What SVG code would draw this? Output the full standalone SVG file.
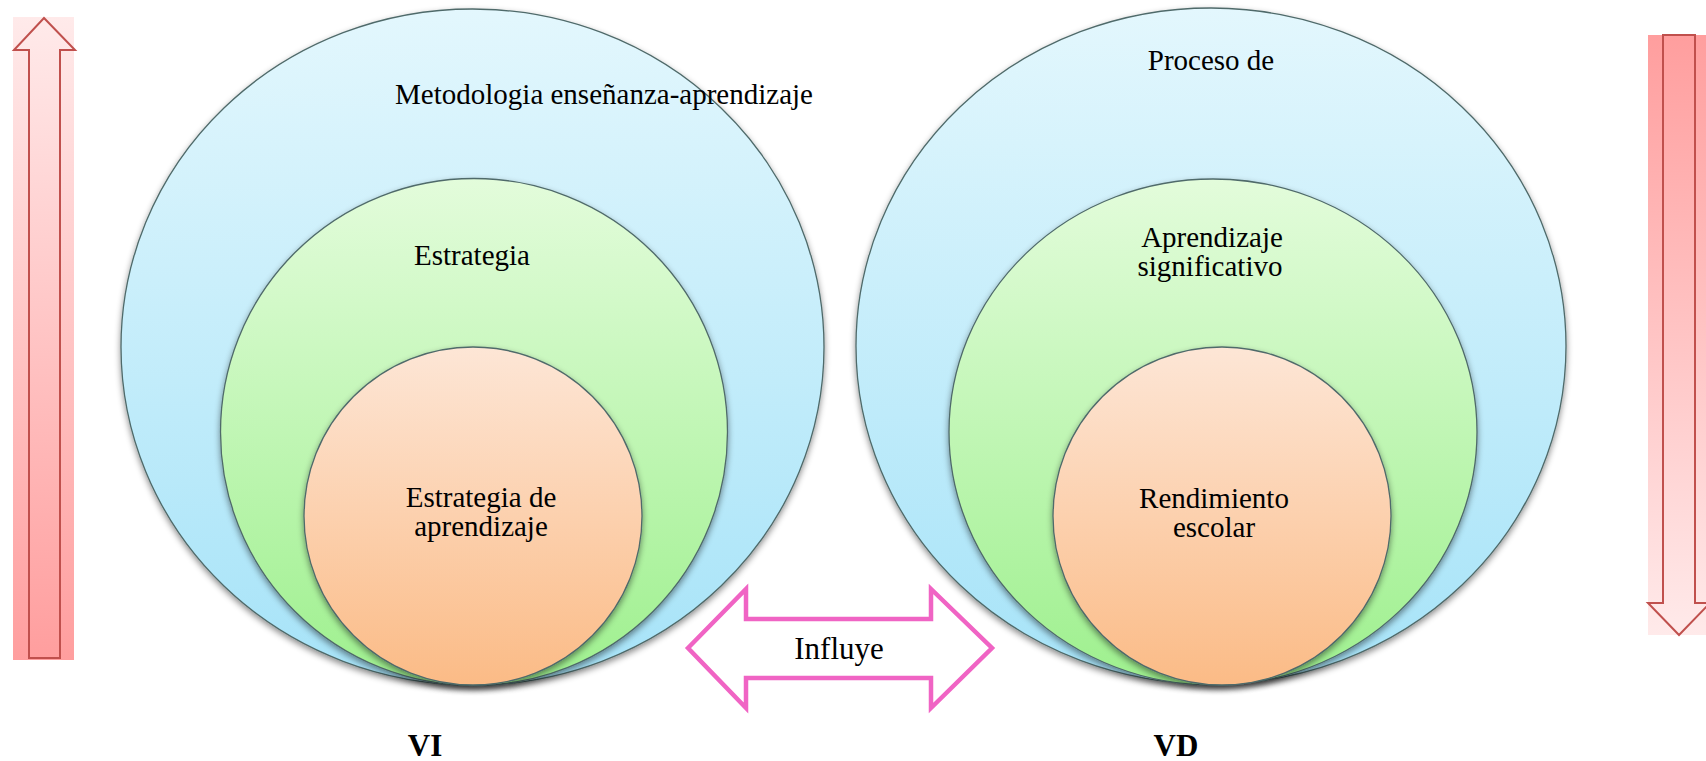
<svg xmlns="http://www.w3.org/2000/svg" width="1706" height="761" viewBox="0 0 1706 761">
<defs>
<linearGradient id="gBlue" x1="0" y1="0" x2="0" y2="1"><stop offset="0" stop-color="#e3f7fd"/><stop offset="1" stop-color="#a6e3f8"/></linearGradient>
<linearGradient id="gGreen" x1="0" y1="0" x2="0" y2="1"><stop offset="0" stop-color="#e3fcdb"/><stop offset="1" stop-color="#9ef08e"/></linearGradient>
<linearGradient id="gOrange" x1="0" y1="0" x2="0" y2="1"><stop offset="0" stop-color="#fde6d6"/><stop offset="1" stop-color="#fbbb86"/></linearGradient>
<linearGradient id="gUp" x1="0" y1="0" x2="0" y2="1"><stop offset="0" stop-color="#ffeaea"/><stop offset="1" stop-color="#ff9e9e"/></linearGradient>
<linearGradient id="gDown" x1="0" y1="0" x2="0" y2="1"><stop offset="0" stop-color="#ff9e9e"/><stop offset="1" stop-color="#ffeaea"/></linearGradient>
<filter id="sh" x="-10%" y="-10%" width="120%" height="125%"><feGaussianBlur in="SourceAlpha" stdDeviation="3"/><feOffset dy="3" result="b"/><feFlood flood-color="#000" flood-opacity="0.45"/><feComposite in2="b" operator="in"/><feMerge><feMergeNode/><feMergeNode in="SourceGraphic"/></feMerge></filter>
</defs>
<style>
.c{stroke:#4f6a6a;stroke-width:1.3;filter:url(#sh)}
.t{font-family:"Liberation Serif","Times New Roman",serif;font-size:29px;fill:#000;text-anchor:middle}
.b{font-family:"Liberation Serif","Times New Roman",serif;font-size:31px;font-weight:bold;fill:#000;text-anchor:middle}
.ar{stroke:#c0504d;stroke-width:2;fill:url(#gUp)}
</style>
<rect width="1706" height="761" fill="#fff"/>
<g id="vi-arrow">
<rect x="13" y="17" width="61" height="643" fill="url(#gUp)"/>
<path class="ar" d="M44 18 L75 50 L60 50 L60 658 L29 658 L29 50 L14 50 Z"/>
</g>
<g id="vd-arrow">
<rect x="1648" y="35" width="62" height="600" fill="url(#gDown)"/>
<path class="ar" style="fill:url(#gDown)" d="M1663 35 L1695 35 L1695 603 L1710 603 L1679 635 L1648 603 L1663 603 Z"/>
</g>
<g id="vi-set">
<g id="metodologia"><ellipse class="c" cx="472.5" cy="347" rx="351.5" ry="338" fill="url(#gBlue)"/><text class="t" x="604" y="104">Metodologia enseñanza-aprendizaje</text></g>
<g id="estrategia"><circle class="c" cx="474" cy="432" r="253.5" fill="url(#gGreen)"/><text class="t" x="472" y="265">Estrategia</text></g>
<g id="estrategia-aprendizaje"><circle class="c" cx="473" cy="516" r="169" fill="url(#gOrange)"/><text class="t" x="481" y="507">Estrategia de</text><text class="t" x="481" y="536">aprendizaje</text></g>
</g>
<g id="vd-set">
<g id="proceso"><ellipse class="c" cx="1211" cy="346" rx="355" ry="338" fill="url(#gBlue)"/><text class="t" x="1211" y="70">Proceso de</text></g>
<g id="aprendizaje"><ellipse class="c" cx="1213" cy="432" rx="264" ry="253" fill="url(#gGreen)"/><text class="t" x="1212" y="247">Aprendizaje</text><text class="t" x="1210" y="276">significativo</text></g>
<g id="rendimiento"><circle class="c" cx="1222" cy="516" r="169" fill="url(#gOrange)"/><text class="t" x="1214" y="508">Rendimiento</text><text class="t" x="1214" y="537">escolar</text></g>
</g>
<g id="connectors">
<path d="M688 648 L746 589 L746 619 L931 619 L931 589 L992 648 L931 708 L931 678 L746 678 L746 708 Z" fill="#fff" stroke="#f064c4" stroke-width="4.5" stroke-linejoin="miter"/>
<text x="839" y="659" style="font-family:'Liberation Serif','Times New Roman',serif;font-size:31px;fill:#000;text-anchor:middle">Influye</text>
</g>
<text class="b" x="425" y="756">VI</text>
<text class="b" x="1176" y="756">VD</text>
</svg>
